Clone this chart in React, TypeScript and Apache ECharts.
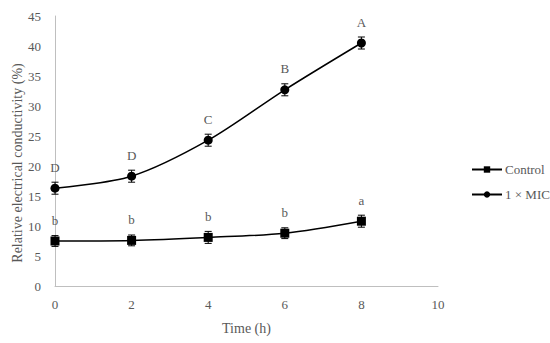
import React, { useEffect, useRef } from "react";
import * as echarts from "echarts";

const times = [0, 2, 4, 6, 8];
const controlValues = [7.5, 7.6, 8.1, 8.8, 10.8];
const controlErrors = [0.9, 0.9, 1.0, 0.9, 1.0];
const controlLetters = ["b", "b", "b", "b", "a"];
const micValues = [16.3, 18.3, 24.3, 32.7, 40.5];
const micErrors = [1.0, 1.0, 1.0, 1.0, 1.0];
const micLetters = ["D", "D", "C", "B", "A"];
const xTicks = [0, 2, 4, 6, 8, 10];
const yTicks = [0, 5, 10, 15, 20, 25, 30, 35, 40, 45];
const yTitle = "Relative electrical conductivity (%)";

const FONT = "'Liberation Serif', 'DejaVu Serif', serif";
const TEXT = "#595959";

function errorSeries(values: number[], errors: number[]) {
  return {
    type: "custom",
    silent: true,
    z: 5,
    data: times.map((t, i) => [t, values[i] - errors[i], values[i] + errors[i]]),
    renderItem: (params: any, api: any) => {
      const x = api.value(0);
      const lo = api.coord([x, api.value(1)]);
      const hi = api.coord([x, api.value(2)]);
      const w = 3.5;
      const style = { stroke: "#000", lineWidth: 1 };
      return {
        type: "group",
        children: [
          { type: "line", shape: { x1: lo[0], y1: lo[1], x2: hi[0], y2: hi[1] }, style },
          { type: "line", shape: { x1: lo[0] - w, y1: lo[1], x2: lo[0] + w, y2: lo[1] }, style },
          { type: "line", shape: { x1: hi[0] - w, y1: hi[1], x2: hi[0] + w, y2: hi[1] }, style },
        ],
      };
    },
  };
}

export default function App() {
  const ref = useRef<HTMLDivElement>(null);
  useEffect(() => {
    const chart = echarts.init(ref.current!, undefined, { renderer: "svg" });
    chart.setOption({
      animation: false,
      textStyle: { fontFamily: FONT },
      grid: { left: 55, right: 112, top: 16, bottom: 57, outerBoundsMode: "none", containLabel: false },
      graphic: [
        {
          type: "text",
          x: 17,
          y: 163,
          rotation: Math.PI / 2,
          style: {
            text: yTitle,
            fill: TEXT,
            font: `14px ${FONT}`,
            textAlign: "center",
            textVerticalAlign: "middle",
          },
        },
      ],
      xAxis: {
        type: "value",
        min: 0,
        max: 10,
        interval: 2,
        name: "Time (h)",
        nameLocation: "middle",
        nameGap: 35,
        nameTextStyle: { color: TEXT, fontSize: 14, fontFamily: FONT },
        axisLine: { show: true, lineStyle: { color: "#bfbfbf" } },
        axisTick: { show: false },
        splitLine: { show: false },
        axisLabel: { color: TEXT, fontSize: 13, margin: 12, fontFamily: FONT, customValues: xTicks },
      },
      yAxis: {
        type: "value",
        min: 0,
        max: 45,
        interval: 5,
        axisLine: { show: true, lineStyle: { color: "#bfbfbf" } },
        axisTick: { show: false },
        splitLine: { show: false },
        axisLabel: { color: TEXT, fontSize: 13, margin: 14, fontFamily: FONT, customValues: yTicks },
      },
      legend: {
        orient: "vertical",
        left: 466,
        top: 158,
        itemGap: 12,
        itemWidth: 30,
        itemHeight: 8,
        textStyle: { color: TEXT, fontSize: 13, fontFamily: FONT, padding: [0, 0, 0, -2] },
        data: ["Control", "1 × MIC"],
      },
      series: [
        {
          name: "Control",
          type: "line",
          smooth: 0.3,
          data: times.map((t, i) => [t, controlValues[i]]),
          symbol: "rect",
          symbolSize: 9,
          itemStyle: { color: "#000" },
          lineStyle: { color: "#000", width: 1.5 },
          z: 6,
          label: {
            show: true,
            position: "top",
            distance: 10,
            color: TEXT,
            fontSize: 13,
            fontFamily: FONT,
            formatter: (p: any) => controlLetters[p.dataIndex],
          },
        },
        {
          name: "1 × MIC",
          type: "line",
          smooth: 0.3,
          data: times.map((t, i) => [t, micValues[i]]),
          symbol: "circle",
          symbolSize: 9,
          itemStyle: { color: "#000" },
          lineStyle: { color: "#000", width: 1.5 },
          z: 6,
          label: {
            show: true,
            position: "top",
            distance: 10,
            color: TEXT,
            fontSize: 13,
            fontFamily: FONT,
            formatter: (p: any) => micLetters[p.dataIndex],
          },
        },
        errorSeries(controlValues, controlErrors),
        errorSeries(micValues, micErrors),
      ],
    });
    return () => chart.dispose();
  }, []);
  return <div ref={ref} style={{ width: 550, height: 343, position: "absolute", left: 0, top: 0 }} />;
}
